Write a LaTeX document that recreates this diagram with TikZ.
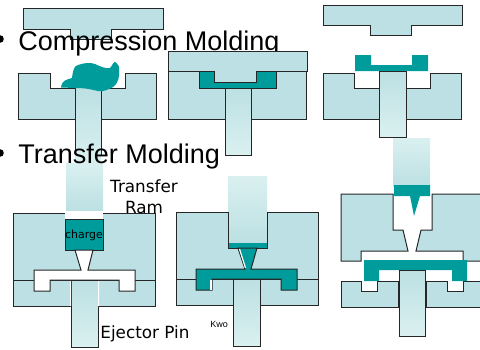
\documentclass[tikz,border=0pt]{standalone}
\usepackage{fontspec}
\setmainfont{Liberation Sans}
\newfontfamily\notefont{DejaVu Sans}
\definecolor{mouldblue}{HTML}{BCE0E3}
\definecolor{paleblue}{HTML}{DAF0F0}
\definecolor{chargeteal}{HTML}{009C9C}
\begin{document}
\begin{tikzpicture}[x=0.5pt,y=-0.5pt,
    outline/.style={draw=black!85, line width=0.5pt},
    mould/.style={outline, fill=mouldblue},
    pinbar/.style={outline, top color=mouldblue, bottom color=paleblue},
    rambar/.style={top color=paleblue, bottom color=mouldblue},
    resin/.style={fill=chargeteal},
    resinbox/.style={outline, fill=chargeteal},
    bigtext/.style={font=\fontsize{13.5}{16}\selectfont, anchor=base west, inner sep=0pt},
    note/.style={font=\notefont\fontsize{8.4}{10.5}\selectfont, inner sep=0pt, align=center},
  ]
    \useasboundingbox (0,0) rectangle (480,349);
    % compression molding, open
    \draw[mould] (23.5,8) -- (163,8) -- (163,29) -- (111,29) -- (111,39) -- (70,39) -- (70,29) -- (23.5,29) -- cycle;
    \draw[mould] (18.5,73) -- (50,73) -- (50,88) -- (125.5,88) -- (125.5,73) -- (156.5,73) -- (156.5,119) -- (18.5,119) -- cycle;
    \shade[rambar] (66,163) rectangle (103,210);
    \shade[top color=mouldblue, bottom color=paleblue] (75,88) rectangle (101,163);
    \draw[outline] (75,88) -- (75,155) (101,88) -- (101,155);
    \fill[resin] (61,87.5) .. controls (62,80) and (66,80) .. (72,78) .. controls (73,70) and (74,66) .. (78,65) .. controls (84,63) and (90,62) .. (95,64) .. controls (101,67) and (107,69) .. (110,68) .. controls (112,66) and (114,61) .. (115,62) .. controls (118,64) and (120,67) .. (119,70) .. controls (120,76) and (118,84) .. (113,87) .. controls (108,90) and (102,92) .. (98,91) .. controls (93,90) and (88,88) .. (75,88) -- cycle;
    % text
    \fill (0,39) circle (3.8);
    \node[bigtext] (comp) at (18,50) {Compression Molding};
    \fill (0,153) circle (3.8);
    \node[bigtext] (trans) at (18,163) {Transfer Molding};
    % compression molding, closed
    \draw[mould] (168,71) rectangle (306,119);
    \draw[resinbox] (199,71) rectangle (276,88);
    \draw[mould] (168,51) -- (307,51) -- (307,71) -- (256,71) -- (256,82) -- (214,82) -- (214,71) -- (168,71) -- cycle;
    \draw[pinbar] (225,88) rectangle (251,155);
    % compression molding, ejected
    \draw[mould] (323,5) -- (462,5) -- (462,25) -- (411,25) -- (411,35) -- (370,35) -- (370,25) -- (323,25) -- cycle;
    \draw[mould] (323,73) -- (354,73) -- (354,88) -- (430,88) -- (430,73) -- (461,73) -- (461,119) -- (323,119) -- cycle;
    \fill[resin] (355,55) -- (371,55) -- (371,65) -- (412,65) -- (412,55) -- (428,55) -- (428,71) -- (355,71) -- cycle;
    \draw[pinbar] (379,71) rectangle (406,137);
    % transfer molding, charge in pot
    \draw[mould] (13,213) rectangle (155,306);
    \draw[outline] (13,280) -- (155,280);
    \fill[white] (65,212) rectangle (103,219);
    \draw[resinbox] (65,219) rectangle (103,250);
    \draw[outline, fill=white] (75,250) -- (81,270) -- (34,270) -- (34,291) -- (50,291) -- (50,280) -- (119,280) -- (119,291) -- (135,291) -- (135,270) -- (88,270) -- (93,250) -- cycle;
    \draw[pinbar] (71,280) rectangle (98,347.5);
    \fill[white] (70,281) rectangle (71,306) (98,281) rectangle (99,306);
    \node[note, font=\notefont\fontsize{5.5}{6}\selectfont] (charge) at (84,235) {charge};
    \node[note] (ramlabel) at (144,197) {Transfer\\Ram};
    \node[note, anchor=base west] (pinlabel) at (100,338) {Ejector Pin};
    % transfer molding, ram pressed
    \draw[mould] (176,212) rectangle (318,305);
    \draw[outline] (176,279) -- (318,279);
    \shade[rambar] (228,176) rectangle (267,243);
    \fill[resin] (228,243) rectangle (267,248);
    \draw[outline] (228,212) -- (228,248) -- (267,248) -- (267,212);
    \draw[resinbox] (238,248) -- (245,269) -- (196,269) -- (196,290) -- (212,290) -- (212,279) -- (281,279) -- (281,290) -- (297,290) -- (297,269) -- (251,269) -- (257,248) -- cycle;
    \draw[white, line width=0.6pt] (239.5,249) -- (245.5,268);
    \draw[white, line width=0.6pt] (211,280) -- (211,289.5);
    \node[font=\fontsize{4.5}{5}\selectfont, anchor=base west, inner sep=0pt] (kwo) at (210,327) {Kwo};
    \draw[pinbar] (233,279) rectangle (260,346);
    % transfer molding, part ejected
    \draw[mould] (482,194) -- (432,194) -- (432,230) -- (421,230) -- (416,251) -- (463,251) -- (463,261) -- (482,261);
    \draw[mould] (341,194) -- (393,194) -- (393,230) -- (403,230) -- (408,251) -- (361,251) -- (361,261) -- (341,261) -- cycle;
    \draw[mould] (341,281) -- (361,281) -- (361,291) -- (377,291) -- (377,281) -- (398,281) -- (398,307) -- (341,307) -- cycle;
    \draw[mould] (482,281) -- (463,281) -- (463,291) -- (447,291) -- (447,281) -- (426,281) -- (426,307) -- (482,307);
    \shade[rambar] (393,138) rectangle (430,186);
    \fill[resin] (394,185) -- (430,185) -- (430,196) -- (420,196) -- (414,216) -- (410,196) -- (394,196) -- cycle;
    \fill[resin] (364,260) -- (467,260) -- (467,281) -- (452,281) -- (452,270) -- (379,270) -- (379,281) -- (364,281) -- cycle;
    \draw[pinbar] (399,270) rectangle (425,336);
\end{tikzpicture}
\end{document}
